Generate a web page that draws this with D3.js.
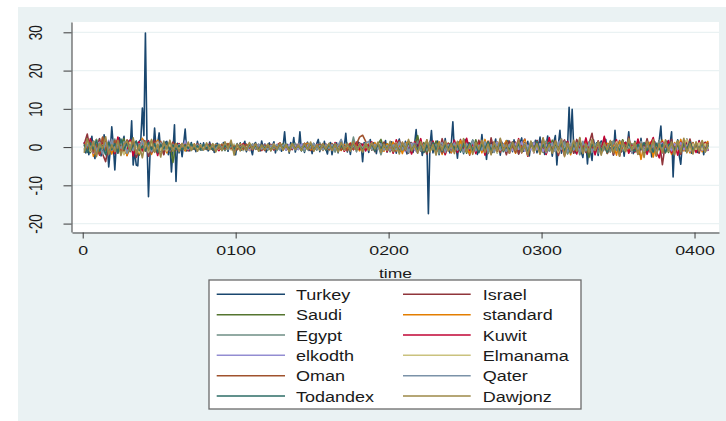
<!DOCTYPE html>
<html>
<head>
<meta charset="utf-8">
<script src="https://cdn.jsdelivr.net/npm/d3@7"></script>
<style>
  body { margin: 0; background: #fff; }
  svg { display: block; font-family: "Liberation Sans", Arial, sans-serif; }
</style>
</head>
<body>
<div id="chart"></div>
<script>
// series names, legend order (row by row, two columns)
var seriesNames = ["Turkey", "Israel", "Saudi", "standard", "Egypt", "Kuwit",
                   "elkodth", "Elmanama", "Oman", "Qater", "Todandex", "Dawjonz"];
var seriesColors = ["#1a476f", "#90353b", "#55752f", "#e37e00", "#6e8e84", "#c10534",
                    "#938dd2", "#cac27e", "#a0522d", "#7b92a8", "#2d6d66", "#9c8847"];

var yTicks = [-20, -10, 0, 10, 20, 30];
var xTicks = [0, 100, 200, 300, 400];
var xTickLabels = ["0", "0100", "0200", "0300", "0400"];

// Turkey, every period 1..409
var turkey = [
  1.2, -1.5, 2.5, -2.0, 0.8, 2.8, -1.2, -3.0, 1.5, -0.5, 2.2, -2.3, -1.0, 3.2, 0.3, 1.0, -5.2, -1.0, 5.3, 0.5,
  -6.0, 1.0, -1.5, 2.4, -0.8, 1.2, 2.8, -1.5, 0.6, 1.6, -0.5, 6.9, -4.7, -1.0, -4.7, -4.9, 1.5, 2.0, 10.2, 3.0,
  29.8, 2.0, -13.0, -2.0, 1.0, -1.0, 5.0, -0.5, 1.0, 3.7, -1.0, 0.8, -1.8, 1.2, 1.5, -2.0, 1.0, -6.5, -1.0, 5.8,
  -9.0, 1.0, -1.5, 0.5, -2.5, 1.0, 4.7, -1.0, 0.5, -1.0, 1.2, -0.6, 0.8, -1.2, 1.5, -0.4, 0.9, -0.8, 1.1, -0.3,
  0.6, -1.0, 1.3, -0.5, 0.4, -1.4, 0.7, 1.0, -0.6, 0.3, -0.9, 1.2, -0.2, 0.8, -1.1, 0.5, 1.4, -0.7, 0.2, -2.0,
  0.9, -0.4, 1.1, -0.8, 0.6, 1.5, -1.2, 0.3, 0.9, -0.6, -2.0, 0.7, 1.2, -0.5, 0.4, -1.0, 1.6, -0.3, 0.8, -1.3,
  0.5, 1.1, -0.9, 0.3, 1.4, -1.5, 0.6, -0.4, 1.0, -1.1, 0.2, 4.0, -0.8, 0.7, -1.6, 1.2, -0.2, 2.5, -1.3, 0.4,
  -0.6, 4.0, -1.0, 0.8, -1.4, 0.5, 1.3, -0.9, 0.2, -1.7, 1.0, -0.3, 0.9, 2.0, -1.2, 0.4, -0.8, 1.5, -0.5, -1.8,
  0.7, 1.2, -2.0, 0.3, -0.7, 1.1, -1.5, 0.6, 1.8, -0.4, 0.2, 3.6, -1.3, 0.5, -1.9, 1.0, -0.6, 0.8, -1.2, 1.4,
  -0.3, 0.9, -3.8, 1.2, -0.5, 0.6, -1.4, 2.0, -0.8, 1.1, 0.4, -1.7, 0.9, -0.2, 1.3, -1.0, 0.5, 1.7, -1.3, 0.3,
  -0.9, 1.4, -0.4, 0.8, -1.6, 1.0, 2.1, -1.1, 0.3, -0.7, 1.5, -1.8, 0.6, 1.2, -0.5, -1.4, 0.9, 4.6, -1.0, 0.4,
  1.3, -2.2, 0.5, -0.9, 1.8, -17.4, 0.2, 4.3, -1.5, 0.8, -0.6, 1.6, -2.0, 0.4, 1.1, -1.2, 2.2, -0.8, 0.6, -1.5,
  1.0, 6.6, -1.2, 0.5, -2.9, 1.4, -0.5, 0.9, -1.7, 2.0, -0.4, 1.1, -1.3, 0.6, 1.8, -0.9, 0.3, -1.9, 1.2, -0.6,
  3.3, -0.8, 0.7, -3.2, 1.1, -0.5, 1.6, -1.4, 0.4, 2.1, -1.0, 0.8, -2.1, 1.3, -0.3, 0.9, -1.6, 1.7, -0.7, 0.5,
  -1.2, 1.9, -0.4, 0.8, -1.8, 1.2, 2.4, -1.1, 0.3, -0.9, 1.5, -2.3, 0.7, 1.0, -0.6, 1.8, -1.5, 0.4, 2.6, -0.8,
  1.2, -1.9, 0.6, 2.9, -1.0, 0.5, -2.4, 1.3, 3.0, -4.7, 0.8, 4.4, -1.6, 0.9, -2.0, 1.4, 0.3, 10.4, 1.0, 9.9,
  0.0, -1.5, 1.8, -0.7, 2.2, -1.3, -2.7, 0.8, 1.5, -4.4, 0.6, -1.2, -3.5, 1.9, -0.5, 1.1, -2.2, 0.7, 1.6, -1.0,
  0.4, 2.0, -1.6, 0.9, -0.6, 1.4, -2.1, 4.4, -0.9, 0.5, 1.7, -1.3, 0.8, -2.4, 1.2, 0.3, 4.0, -1.1, 0.6, -1.7,
  1.5, -0.4, 0.9, -1.9, 2.3, -0.8, 0.5, -1.4, 1.8, -0.6, 1.1, -2.6, 0.7, 1.4, -1.2, 0.4, 2.0, 5.5, -1.5, 0.8,
  -1.1, 1.6, -0.5, 0.9, 4.0, -7.8, 1.0, -0.8, 1.9, -2.2, -4.5, 0.6, 1.3, -1.0, 2.1, -0.7, 0.5, -1.6, 1.2, -0.3,
  0.9, -1.4, 1.7, -0.6, 0.4, -2.0, 1.1, -0.5, 0.8
];

// the other series, read every second period (1, 3, 5, ... 409)
var israel = [
  0.8, 3.4, -1.2, 1.5, -0.6, 2.1, -1.8, -3.8, 0.9, 1.7, -1.4, 2.3, -0.5, 1.2, -2.2, 0.6, 1.9, -2.7, -1.0, 2.0,
  1.4, -2.4, 0.5, 1.8, -1.6, 0.7, -2.0, 1.1, -0.8, 1.3, -0.4, 0.9, -0.7, 0.5, -1.0, 0.6, -0.3, 0.8, -0.6, 0.4,
  -0.5, 0.7, -0.3, 0.6, -0.9, 0.4, 0.8, -0.6, 0.3, -0.7, 0.5, -0.2, 0.9, -0.8, 0.4, -0.5, 0.6, -0.3, 0.7, -0.9,
  0.3, -0.6, 0.8, -0.4, 0.5, -0.8, 0.6, 0.2, -0.7, 0.9, -0.5, 0.4, -0.3, 0.7, -0.9, 0.5, -0.2, 0.6, -0.6, 0.8,
  -0.4, 0.9, -0.7, 0.3, 0.6, -1.0, 0.5, -0.3, 0.8, -0.6, 1.1, -0.8, 0.4, -0.5, 0.9, -1.2, 0.7, -0.4, 1.3, -0.9,
  1.0, -1.4, 0.6, 1.7, -0.9, 0.5, -1.6, 1.2, -0.7, 2.0, -1.1, 0.4, -1.8, 1.5, -0.3, 0.9, -1.3, 2.2, -0.8, 0.6,
  -1.5, 1.1, -0.6, 2.0, -1.2, 0.7, -2.1, 1.4, -0.4, 1.8, -1.0, 0.5, -1.7, 2.4, -0.9, 1.2, -1.4, 0.8, -2.0, 1.6,
  -0.7, 1.3, -1.8, 0.6, 2.1, -1.1, 0.9, -1.5, 1.7, -0.5, 2.3, -1.9, 0.8, -1.0, 1.4, -2.2, 0.6, 1.9, -1.3, 0.7,
  -1.6, 2.0, -0.8, 1.2, -1.4, 0.9, 3.6, -1.7, 0.5, -1.1, 2.4, -0.6, 1.5, -2.0, 0.8, -1.3, 1.8, -0.9, 2.6, -1.5,
  0.7, -1.8, 1.4, -0.6, 2.2, -1.2, 0.9, -2.3, 1.6, -4.6, 1.1, -0.8, 2.0, -1.5, 0.6, -1.9, 1.3, -0.7, 2.1, -1.1,
  0.8, -1.6, 1.5, -0.9, 1.2
];
var saudi = [
  -0.6, 1.2, -1.5, 0.8, 2.0, -1.0, 0.4, -1.8, 1.3, -0.7, 1.6, -1.2, 0.5, 2.2, -1.9, 0.9, -0.4, 1.4, -2.1, 0.7,
  1.1, -0.8, 1.7, -1.3, 0.6, -0.9, 1.0, -0.5, 1.4, -4.0, 0.8, -0.6, 0.5, -0.9, 0.3, 0.7, -0.4, 0.6, -0.8, 0.2,
  0.5, -0.3, 0.8, -0.6, 0.2, 0.7, -0.9, 0.4, -0.5, 0.6, -0.2, 0.9, -0.7, 0.3, -0.4, 0.8, -0.6, 0.5, -0.3, 0.7,
  -0.8, 0.4, -0.2, 0.6, -0.5, 0.9, -0.4, 0.3, 0.7, -0.6, 0.5, -0.9, 0.2, 0.8, -0.3, 0.4, -0.7, 0.6, -0.5, 0.3,
  0.6, -0.4, 0.9, -0.8, 0.3, -0.6, 1.0, -0.5, 0.7, -0.3, 0.5, -0.9, 1.2, -0.7, 0.4, -0.6, 0.8, 2.0, -0.5, 0.9,
  -1.2, 0.7, -0.5, 1.4, -0.9, 0.3, 1.1, -1.5, 0.6, 3.0, -0.8, 1.2, -1.3, 0.5, -0.7, 1.6, -1.0, 0.4, -1.8, 1.0,
  0.6, -1.1, 1.3, -0.4, 0.8, -1.6, 1.0, -0.7, 1.9, -1.2, 0.5, -0.9, 1.4, -0.3, 0.7, -1.5, 1.1, -0.6, 1.7, -1.0,
  0.4, -1.3, 0.9, -0.5, 1.5, -1.8, 0.6, 1.2, -0.8, 0.3, -1.4, 1.0, -0.6, 1.8, -1.1, 0.7, -0.4, 1.3, -1.7, 0.5,
  1.0, -0.7, 1.4, -1.2, 0.6, -2.7, 0.8, -0.5, 1.6, -1.0, 0.4, -1.5, 1.2, -0.8, 0.7, -1.3, 1.9, -0.6, 0.9, -1.1,
  1.3, -0.9, 0.5, -1.6, 1.1, -0.4, 0.8, -1.2, 1.5, -0.7, 0.6, -1.4, 1.0, -0.5, 1.7, -1.1, 0.4, -0.8, 1.2, -0.6,
  -1.0, 0.9, -0.5, 1.3, -0.7
];
var standard = [
  0.5, -1.1, 1.6, -2.4, 0.9, -1.6, 2.5, -0.7, 1.3, -1.8, 0.4, 2.0, -1.3, 0.8, -2.2, 1.5, -0.6, 1.1, -1.7, 2.3,
  -0.9, 1.4, -1.9, 0.6, 1.8, -1.2, 0.7, -1.5, 1.2, -0.6, 0.9, -0.4, 0.7, -1.0, 0.5, -0.3, 0.8, -0.7, 0.4, -0.5,
  0.7, -0.4, 0.5, -0.8, 0.3, 0.6, -0.5, 0.9, -0.7, 0.2, -0.6, 0.8, -0.3, 0.5, -0.9, 0.4, 0.7, -0.5, 0.3, -0.6,
  0.4, -0.7, 0.6, -0.3, 0.9, -0.5, 0.2, -0.8, 0.6, -0.4, 0.7, -0.6, 0.5, 1.0, -0.7, 0.3, -0.5, 0.8, -0.9, 0.4,
  -0.6, 0.8, -0.3, 0.5, -0.9, 0.7, -0.4, 1.1, -0.6, 0.3, -1.0, 0.6, -0.5, 0.9, -0.7, 1.2, -0.4, 0.6, -1.1, 0.8,
  -0.5, 1.3, -1.0, 0.6, -1.7, 0.9, 1.5, -0.8, 0.4, -1.3, 1.1, -0.6, 1.8, -1.2, 0.7, -0.4, 1.4, -1.9, 0.5, 1.0,
  -1.4, 0.8, -0.6, 1.7, -1.1, 0.5, -1.8, 1.2, -0.3, 0.9, -1.5, 2.0, -0.7, 0.6, -1.2, 1.4, -0.9, 0.4, 1.6, -1.0,
  0.7, -1.6, 1.1, -0.5, 1.9, -1.3, 0.6, -0.9, 1.5, -1.8, 0.8, -0.4, 2.1, -1.0, 0.5, -1.4, 1.2, -0.7, 0.9, -2.0,
  1.3, -0.6, 0.8, -1.5, 1.8, -1.1, 0.4, -0.8, 1.4, -1.7, 0.6, 1.0, -1.2, 0.5, -2.1, 1.6, -0.7, 1.1, -1.3, 0.9,
  -0.8, 1.5, -3.2, 0.7, -1.1, 1.3, -2.6, 0.9, -0.5, 1.8, -1.4, 0.6, -1.9, 1.2, -0.7, 2.0, -1.0, 0.5, -1.5, 1.1,
  -0.6, 1.4, -1.2, 0.8, 1.6
];
var egypt = [
  -0.9, 1.7, -0.4, 1.1, -2.0, 0.6, 1.4, -1.3, 0.8, -0.5, 2.1, -1.6, 0.3, -1.1, 1.5, -0.7, 0.9, -1.9, 1.2, -0.3,
  0.8, -1.5, 1.3, -0.6, 0.4, -1.2, 1.6, -0.8, 0.5, -0.9, 0.6, -0.4, 0.8, -0.5, 0.3, -0.7, 0.5, -0.2, 0.6, -0.4,
  -0.6, 0.5, -0.3, 0.8, -0.5, 0.4, -0.8, 0.6, -0.2, 0.7, -0.4, 0.5, -0.9, 0.3, 0.6, -0.5, 0.8, -0.6, 0.4, -0.3,
  0.7, -0.5, 0.3, -0.9, 0.6, -0.2, 0.8, -0.7, 0.4, 1.0, -0.6, 0.5, -1.1, 0.7, -0.4, 0.9, -0.8, 1.2, -0.5, 0.6,
  -0.9, 0.7, -1.3, 0.4, 1.0, -0.6, 0.8, -1.0, 2.6, -0.7, 0.5, -1.4, 0.9, -0.5, 1.1, -0.8, 0.6, -2.0, 0.7, -0.4,
  0.9, -1.2, 0.5, 1.3, -0.8, 0.6, -1.5, 1.0, -0.4, 1.6, -1.1, 0.7, -0.9, 1.4, -0.6, 0.8, -1.7, 1.1, -0.5, 0.9,
  -1.0, 1.5, -0.7, 0.4, -1.4, 1.2, -0.5, 1.8, -1.2, 0.6, -0.8, 1.3, -1.6, 0.5, 0.9, -1.1, 1.6, -0.6, 0.8, -1.3,
  1.1, -0.4, 1.4, -1.0, 0.6, -1.7, 0.9, -0.5, 1.2, -1.4, 0.7, 1.6, -0.9, 0.4, -1.2, 1.0, -0.6, 1.5, -1.8, 0.8,
  -0.6, 1.2, -2.0, 0.8, -1.0, 1.4, -0.5, 0.9, -1.6, 1.1, -0.7, 0.5, -1.3, 1.7, -0.8, 0.6, -1.1, 1.3, -0.4, 0.9,
  -1.2, 0.7, 1.5, -0.9, 0.4, -1.4, 1.0, -0.6, 1.8, -1.1, 0.5, -0.8, 1.3, -1.6, 0.9, -0.4, 1.2, -1.0, 0.6, -1.5,
  0.8, -0.7, 1.1, -1.3, 0.5
];
var kuwit = [
  1.3, -0.8, 2.2, -1.5, 0.6, -2.1, 1.0, 1.8, -1.2, 0.4, -1.7, 2.6, -0.9, 1.1, -0.5, 1.9, -2.3, 0.7, 1.4, -1.0,
  0.5, 1.7, -1.4, 0.9, -2.2, 1.2, -0.6, 0.8, -1.1, 0.4, -0.7, 0.9, -0.3, 0.6, -0.8, 0.4, -0.5, 0.7, -0.2, 0.5,
  -0.4, 0.8, -0.6, 0.3, -0.9, 0.5, 0.7, -0.3, 0.6, -0.8, 0.4, -0.5, 0.9, -0.2, 0.3, -0.7, 0.6, 0.4, -0.9, 0.5,
  -0.3, 0.7, -0.8, 0.5, 1.1, -0.4, 0.6, -0.9, 0.3, -0.5, 0.8, -0.6, 1.0, -0.3, 0.5, -1.0, 0.7, -0.4, 0.9, -0.7,
  0.5, -0.8, 1.2, -0.5, 0.7, -1.1, 0.4, 0.9, -0.7, 1.3, -0.6, 0.8, -1.0, 0.5, 1.4, -0.8, 0.6, -0.4, 1.0, -1.2,
  0.8, -1.6, 1.9, -0.7, 1.2, -1.0, 0.5, -1.8, 1.4, -0.6, 2.2, -1.3, 0.7, -0.9, 1.6, -1.5, 0.6, 1.1, -2.0, 0.9,
  -0.6, 1.8, -1.4, 0.5, -1.0, 2.3, -0.8, 1.1, -1.7, 0.7, 1.5, -2.1, 0.9, -0.5, 1.3, -1.2, 2.0, -0.7, 0.6, -1.6,
  1.4, -0.9, 2.2, -1.5, 0.8, -2.4, 1.1, -0.6, 1.7, -1.0, 0.5, -1.9, 2.5, -0.8, 1.2, -1.4, 0.6, -2.2, 1.5, -0.7,
  0.9, -1.8, 1.3, -0.5, 2.4, -1.1, 0.7, -2.0, 1.6, -0.8, 2.8, -1.4, 0.6, -1.0, 1.9, -2.3, 0.8, 1.2, -1.6, 0.5,
  -1.3, 2.1, -0.7, 1.0, -1.9, 0.6, 2.5, -1.2, -2.8, 1.4, -0.9, 1.7, -1.5, 0.8, -2.1, 1.3, -0.6, 1.9, -1.1, 0.7,
  -1.4, 1.6, -0.8, 1.2, -1.0
];
var elkodth = [
  0.4, -1.0, 0.9, -1.6, 0.7, 1.3, -0.5, -1.2, 1.8, -0.8, 0.5, -1.4, 1.1, -0.3, 1.6, -0.9, 0.6, -1.3, 0.8, 1.2,
  -0.7, 0.9, -1.1, 0.5, 1.4, -0.8, 0.6, -1.0, 0.3, 0.8, -0.5, 0.6, -0.4, 1.6, -0.6, 0.3, -0.5, 0.7, -0.4, 0.5,
  0.6, -0.4, 0.7, -0.6, 0.3, -0.5, 0.8, -0.3, 0.5, -0.7, 0.4, 0.6, -0.5, 0.3, -0.8, 0.7, -0.4, 0.5, -0.6, 0.8,
  -0.5, 0.3, -0.7, 0.6, -0.4, 0.5, -0.8, 0.7, -0.3, 0.4, -0.6, 0.8, -0.5, 0.3, 0.7, -0.4, 0.6, -0.7, 0.4, -0.5,
  0.8, -0.6, 0.4, -0.9, 0.7, -0.5, 0.6, -0.3, 0.9, -0.7, 0.4, -0.6, 1.0, -0.5, 0.7, -0.8, 0.5, -0.4, 0.8, -0.6,
  0.5, -0.9, 1.1, -0.6, 0.8, -1.2, 0.4, 0.9, -0.7, -1.5, 0.6, -0.8, 1.3, -0.5, 0.9, -1.1, 0.7, -0.4, 1.0, -0.8,
  0.6, -1.0, 0.8, -0.5, 1.2, -0.9, 0.4, -0.7, 1.1, -1.3, 0.7, -0.6, 0.9, -1.0, 0.5, 1.3, -0.8, 0.6, -1.1, 0.7,
  -0.9, 1.0, -0.6, 1.4, -1.1, 0.5, -0.8, 1.2, -0.7, 0.9, -1.2, 0.6, -0.5, 1.1, -0.9, 0.7, 2.2, -1.0, 0.6, -0.8,
  1.2, -0.7, 0.9, -1.3, 0.5, -0.9, 1.1, -0.6, 0.8, -1.4, 0.7, -0.5, 1.3, -0.8, 0.6, -1.1, 0.9, -0.7, 1.4, -0.9,
  0.6, -1.2, 0.8, -0.5, 1.0, -0.9, 0.7, -1.3, 0.5, 1.1, -0.8, 0.6, -1.0, 0.9, -0.6, 1.2, -0.7, 0.5, -1.1, 0.8,
  -0.6, 1.0, -0.8, 0.5, -0.9
];
var elmanama = [
  -0.7, 1.4, -1.1, 0.6, 1.9, -0.9, 0.5, -1.7, 1.0, -0.4, 1.5, -1.2, 0.8, -2.0, 0.6, 1.3, -0.8, 0.4, -1.4, 1.1,
  0.7, -1.3, 0.9, -0.5, 1.2, -0.8, 0.4, -1.0, 0.6, -0.7, 0.5, -0.3, 0.8, -0.6, 0.4, -0.5, 0.3, -0.7, 0.6, -0.4,
  0.5, -0.7, 0.3, 0.6, -0.5, 0.8, -0.4, 0.2, -0.6, 0.7, -0.3, 0.5, -0.8, 0.4, 0.6, -0.5, 0.3, -0.7, 0.5, -0.4,
  0.6, -0.3, 0.8, -0.6, 0.4, -0.7, 0.5, -0.4, 0.9, -0.5, 0.3, -0.8, 0.6, -0.4, 0.7, -0.6, 0.5, -0.3, 0.8, -0.7,
  0.4, -0.6, 0.9, -0.5, 0.7, -0.8, 0.5, -0.4, 0.6, -1.0, 0.8, -0.5, 0.4, -0.7, 1.1, -0.6, 0.5, -0.9, 0.7, -0.4,
  0.9, -0.7, 1.2, -1.0, 0.5, -0.8, 1.4, -0.6, 0.7, -1.1, 0.9, -0.5, 1.3, -0.9, 0.6, -1.2, 0.8, -0.4, 1.0, -0.7,
  0.5, -1.0, 0.8, -0.6, 1.3, -0.9, 0.6, -1.2, 0.7, -0.5, 1.1, -0.8, 0.4, -1.0, 0.9, -1.5, 0.6, -0.7, 1.2, -0.5,
  0.8, -1.1, 0.6, -0.9, 1.4, -0.7, 0.5, -1.3, 1.0, -0.6, 0.8, -1.0, 1.2, -0.5, 0.7, -1.4, 0.9, -0.6, 1.1, -0.8,
  0.6, -0.9, 1.3, -0.7, 0.5, -1.2, 0.9, -0.6, 1.0, -0.8, 0.7, -1.1, 0.5, -0.7, 1.4, -0.9, 0.6, -1.3, 0.8, -0.5,
  1.0, -0.8, 0.6, -1.1, 0.9, -0.5, 1.2, -0.9, 0.7, -0.6, 1.1, -1.0, 0.5, -0.8, 1.3, -0.7, 0.6, 2.0, -0.9, 0.8,
  -0.6, 1.1, -0.7, 0.9, -0.5
];
var oman = [
  1.0, -0.6, 1.5, -1.3, 0.7, -1.9, 2.6, -0.8, 1.2, -0.4, 1.7, -1.5, 0.5, -1.0, 1.9, -0.7, 0.9, -1.6, 0.6, 1.3,
  -1.1, 0.8, -1.4, 1.0, -0.6, 1.5, -0.9, 0.5, -0.7, 0.9, -0.4, 0.6, -0.3, 0.7, -0.5, 0.4, -0.6, 0.8, -0.3, 0.5,
  -0.6, 0.4, -0.8, 0.6, -0.3, 0.7, -0.5, 0.9, -0.4, 0.3, -0.7, 0.5, -0.6, 0.8, -0.3, 0.4, -0.5, 0.7, -0.8, 0.6,
  -0.4, 0.6, -0.7, 0.3, 0.8, -0.5, 0.4, -0.9, 0.7, -0.3, 0.5, -0.6, 0.9, -0.4, 0.6, -0.8, 0.3, 0.7, -0.5, 0.4,
  -0.7, 0.9, -0.5, 0.6, -0.8, 0.4, -1.0, 0.7, -0.6, 0.8, 2.6, 3.1, 1.5, -0.7, 0.5, -0.9, 0.6, -0.5, 1.1, -0.8,
  1.2, -0.8, 1.0, -1.3, 0.6, -0.9, 1.5, -0.7, 0.5, -1.1, 0.8, -1.4, 1.1, -0.6, 0.9, -1.0, 0.4, -1.6, 1.2, -0.5,
  0.9, -1.2, 0.6, -0.8, 1.4, -1.0, 0.5, -1.5, 1.1, -0.7, 0.8, -1.3, 1.6, -0.5, 0.7, -1.1, 0.9, -0.6, 1.3, -0.9,
  0.5, -1.4, 1.0, -0.7, 1.2, -1.6, 0.8, -0.5, 1.5, -1.0, 0.6, -1.2, 0.9, -0.8, 1.7, -0.6, 0.5, -1.3, 1.1, -0.9,
  0.7, -1.1, 1.4, -0.6, 0.9, -1.5, 0.6, -0.8, 1.2, -1.0, 0.5, -1.7, 1.3, -0.7, 0.8, -1.2, 1.0, -0.5, 1.6, -0.9,
  0.6, -1.3, 1.1, -0.8, 0.5, -1.0, 1.5, -0.6, 0.9, -1.4, 0.7, -0.9, 1.2, -0.5, 0.8, -1.6, 1.0, -0.7, 1.3, -0.8,
  0.6, -1.1, 0.9, -0.7, 1.2
];
var qater = [
  -1.2, 0.7, -0.4, 1.6, -0.9, 0.5, -1.8, 1.2, -0.6, 2.0, -1.1, 0.8, -0.3, 1.4, -1.6, 0.6, -0.8, 1.1, -0.5, 1.7,
  -0.9, 0.6, -1.2, 0.8, -0.5, 1.1, -0.7, 0.4, -1.0, 0.6, -0.4, 0.7, -0.5, 0.3, -0.6, 0.5, -0.3, 0.6, -0.7, 0.4,
  0.3, -0.6, 0.5, -0.4, 0.8, -0.3, 0.6, -0.7, 0.4, -0.5, 0.7, -0.2, 0.5, -0.8, 0.3, 0.6, -0.4, 0.8, -0.5, 0.2,
  -0.6, 0.5, -0.3, 0.7, -0.8, 0.4, 0.6, -0.5, 0.3, -0.7, 0.8, -0.4, 0.5, -0.6, 0.3, 0.9, -0.5, 0.4, -0.8, 0.6,
  -0.3, 0.7, -0.6, 0.5, 2.0, -0.4, 0.8, -0.7, 0.5, -0.9, 0.6, -0.4, 1.0, 1.5, -0.6, 0.7, -0.5, 0.9, -0.8, 0.4,
  -1.0, 0.6, -0.7, 1.2, -0.5, 0.9, -1.3, 0.4, 1.0, -0.8, 0.6, -1.1, 1.4, -0.6, 0.8, -0.9, 0.5, 1.2, -1.4, 0.7,
  -0.5, 1.1, -0.8, 0.6, -1.2, 0.9, -0.4, 1.5, -1.0, 0.5, -0.7, 1.3, -0.9, 0.6, -1.4, 1.0, -0.5, 0.8, -1.1, 0.6,
  1.2, -0.7, 0.5, -1.3, 0.9, -0.6, 1.4, -1.0, 0.7, -0.5, 1.1, -1.5, 0.6, 0.9, -0.8, 1.3, -0.6, 0.5, -1.2, 1.0,
  -0.8, 0.6, -1.1, 1.5, -0.7, 0.9, -1.3, 0.5, 1.2, -0.9, 0.6, -1.0, 1.4, -0.5, 0.8, -1.2, 0.7, -0.6, 1.1, -1.4,
  0.9, -0.6, 1.3, -1.1, 0.5, -0.8, 1.0, -1.4, 0.7, -0.5, 1.2, -0.9, 0.6, -1.1, 0.8, -0.5, 1.4, -1.0, 0.6, -0.7,
  1.0, -0.8, 0.5, -1.2, 0.7
];
var todandex = [
  0.6, -1.4, 1.1, -0.5, 1.8, -1.0, 0.4, -2.0, 1.3, -0.7, 0.9, -1.5, 2.1, -0.6, 1.0, -1.2, 0.5, 1.6, -0.9, 0.3,
  -1.0, 1.3, -0.6, 0.9, -1.5, 0.7, -0.4, 1.2, -0.8, 0.5, -0.6, 0.4, -0.7, 0.5, -0.3, 0.8, -0.5, 0.3, -0.6, 0.7,
  -0.4, 0.6, -0.7, 0.3, 0.5, -0.8, 0.4, -0.3, 0.7, -0.5, 0.6, -0.4, 0.3, -0.6, 0.8, -0.5, 0.4, -0.7, 0.6, -0.3,
  0.5, -0.8, 0.4, -0.5, 0.7, -0.3, 0.6, -0.6, 0.8, -0.4, 0.3, -0.7, 0.5, -0.5, 0.9, -0.6, 0.4, -0.3, 0.7, -0.8,
  0.6, -0.5, 0.8, -0.9, 0.4, -0.6, 0.7, -0.4, 1.0, -0.7, 0.5, -0.8, 0.6, -0.5, 0.9, -1.1, 0.7, -0.4, 0.8, -0.6,
  1.1, -0.9, 0.6, -1.2, 0.8, -0.5, 1.3, -1.0, 0.7, -0.6, 1.0, -1.4, 0.5, -0.8, 1.2, -0.7, 0.9, -1.1, 0.6, -0.4,
  1.2, -0.8, 0.5, -1.3, 0.9, -0.6, 1.1, -1.0, 0.7, -1.5, 0.8, -0.5, 1.4, -0.9, 0.6, -0.7, 1.0, -1.2, 0.5, -0.8,
  1.3, -0.6, 0.9, -1.1, 0.5, -1.4, 1.0, -0.7, 1.6, -0.9, 0.6, -0.5, 1.2, -1.3, 0.8, -0.6, 1.1, -0.9, 0.5, -1.5,
  0.9, -0.7, 1.5, -1.0, 0.6, -1.2, 0.8, -0.5, 1.3, -0.9, 0.7, -1.4, 1.1, -0.6, 0.5, -1.0, 1.6, -0.8, 0.9, -0.5,
  -1.1, 0.7, -0.6, 1.2, -0.9, 0.5, -1.3, 1.0, -0.7, 0.8, -1.5, 0.6, 1.1, -0.8, 0.5, -1.2, 0.9, -0.6, 1.4, -1.0,
  0.7, -0.5, 1.0, -0.9, 0.6
];
var dawjonz = [
  -1.5, 2.2, -0.8, 1.4, -2.5, 1.0, -0.4, 2.7, -1.9, 0.6, -1.2, 1.8, -2.2, 0.9, 1.5, -1.0, 2.4, -1.7, 0.5, -2.8,
  1.6, -0.9, 2.0, -1.4, 0.7, -2.6, 1.3, -0.5, 1.8, -1.1, 0.8, -1.2, 1.0, -0.6, 1.3, -0.9, 0.7, -1.1, 0.5, -0.8,
  1.1, -0.7, 0.9, -1.3, 0.6, -0.9, 1.4, -0.5, 1.8, -2.1, 0.8, -1.0, 0.6, -0.8, 1.2, -0.6, 0.9, -1.1, 0.5, -0.7,
  0.8, -1.0, 0.6, -0.5, 1.1, -0.8, 0.7, -1.2, 0.9, -0.6, 0.5, -0.9, 1.0, -0.7, 1.3, -1.1, 0.6, -0.8, 0.9, -0.5,
  1.0, -0.9, 0.7, -1.3, 1.2, -0.6, 0.8, -1.0, 1.4, -0.7, 0.5, -1.2, 0.9, -0.8, 1.1, -0.5, 1.3, -1.4, 0.7, -0.9,
  1.5, -1.2, 0.8, -1.8, 1.3, -0.7, 2.0, -1.0, 0.6, -1.6, 1.4, -0.9, 1.9, -1.3, 0.7, -2.1, 1.2, -0.8, 1.6, -1.1,
  0.9, -1.7, 1.5, -0.8, 2.2, -1.3, 0.6, -1.9, 1.2, -0.7, 1.8, -1.4, 0.8, -2.0, 1.4, -1.0, 2.3, -0.9, 0.7, -1.6,
  1.3, -0.8, 1.9, -1.5, 0.6, -2.2, 1.6, -1.0, 0.9, -1.8, 2.4, -1.1, 0.7, -1.6, 1.5, -0.9, 2.1, -2.5, 1.0, -1.2,
  1.8, -1.0, 2.5, -1.7, 0.8, -1.3, 2.0, -0.9, 1.4, -2.1, 1.1, -0.7, 1.7, -1.5, 0.9, -2.4, 1.6, -1.1, 2.2, -0.8,
  1.2, -1.9, 0.9, -2.7, 1.5, -1.0, 2.0, -2.3, 0.8, -1.4, 1.9, -0.9, 1.3, -2.0, 1.6, -1.2, 2.3, -1.5, 0.9, -1.8,
  1.4, -1.0, 1.7, -1.3, 0.9
];

// period index for each series
var periodsAll = d3.range(1, 410);
var periodsOdd = d3.range(1, 410, 2);

var seriesValues = [turkey, israel, saudi, standard, egypt, kuwit,
                    elkodth, elmanama, oman, qater, todandex, dawjonz];

var W = 726, H = 421;
var plot = { left: 72, right: 719, top: 22, bottom: 232 };
var fontFamily = '"Liberation Sans", Arial, sans-serif';

var svg = d3.select('#chart').append('svg')
    .attr('width', W)
    .attr('height', H);

// white outer, bluish graph region, white plot region
svg.append('rect').attr('width', W).attr('height', H).attr('fill', '#ffffff');
svg.append('rect')
    .attr('x', 18).attr('y', 7)
    .attr('width', W - 18).attr('height', H - 7)
    .attr('fill', '#eaf2f3');
svg.append('rect')
    .attr('x', plot.left).attr('y', plot.top)
    .attr('width', plot.right - plot.left).attr('height', plot.bottom - plot.top)
    .attr('fill', '#ffffff');

var x = d3.scaleLinear().domain([-7, 416]).range([plot.left, plot.right]);
var y = d3.scaleLinear().domain([-22.2, 32.7]).range([plot.bottom, plot.top]);

// grid lines
svg.append('g').selectAll('line')
    .data(yTicks)
  .enter().append('line')
    .attr('x1', plot.left).attr('x2', plot.right)
    .attr('y1', d => y(d)).attr('y2', d => y(d))
    .attr('stroke', '#eaf2f3')
    .attr('stroke-width', 1.4);

// the series, Turkey first so the others sit over it
var line = d3.line()
    .x(d => x(d[0]))
    .y(d => y(d[1]));

seriesValues.forEach(function(vals, i) {
  var periods = i === 0 ? periodsAll : periodsOdd;
  var pts = vals.map((v, j) => [periods[j], v]).filter(p => p[0] !== undefined);
  svg.append('path')
      .datum(pts)
      .attr('fill', 'none')
      .attr('stroke', seriesColors[i])
      .attr('stroke-width', 1.6)
      .attr('stroke-linejoin', 'round')
      .attr('d', line);
});

// y axis
var yAxis = svg.append('g')
    .attr('transform', 'translate(' + (plot.left - 0.5) + ',0)')
    .call(d3.axisLeft(y).tickValues(yTicks).tickSize(8).tickSizeOuter(0)
      .tickFormat(d => String(d)));
yAxis.select('.domain').attr('stroke', '#3a3a3a');
yAxis.selectAll('.tick line').attr('stroke', '#3a3a3a');
yAxis.selectAll('.tick text')
    .attr('x', null).attr('dy', null)
    .attr('transform', 'translate(-29.5,0) scale(1.35,1) rotate(-90)')
    .attr('text-anchor', 'middle')
    .attr('fill', '#1a1a1a')
    .style('font-family', fontFamily)
    .style('font-size', '13.5px');

// x axis
var xAxis = svg.append('g')
    .attr('transform', 'translate(0,' + (plot.bottom + 0.5) + ')')
    .call(d3.axisBottom(x).tickValues(xTicks).tickSize(6).tickSizeOuter(0)
      .tickFormat((d, i) => xTickLabels[i]));
xAxis.select('.domain').attr('stroke', '#3a3a3a');
xAxis.selectAll('.tick line').attr('stroke', '#3a3a3a');
xAxis.selectAll('.tick text')
    .attr('y', null).attr('dy', null)
    .attr('transform', 'translate(0,22.5) scale(1.32,1)')
    .attr('text-anchor', 'middle')
    .attr('fill', '#1a1a1a')
    .style('font-family', fontFamily)
    .style('font-size', '13.5px');

svg.append('text')
    .attr('transform', 'translate(' + ((plot.left + plot.right) / 2) + ',277.5) scale(1.3,1)')
    .attr('text-anchor', 'middle')
    .attr('fill', '#1a1a1a')
    .style('font-family', fontFamily)
    .style('font-size', '13.5px')
    .text('time');

// legend, two columns filled row by row
var legend = { x: 209, y: 280, width: 372, height: 129, rowGap: 20.35, firstRow: 294.3 };
var lg = svg.append('g');
lg.append('rect')
    .attr('x', legend.x).attr('y', legend.y)
    .attr('width', legend.width).attr('height', legend.height)
    .attr('fill', '#ffffff')
    .attr('stroke', '#6a6a6a')
    .attr('stroke-width', 1.3);

var colX = [ { x1: 216.7, x2: 285, tx: 296 }, { x1: 403, x2: 470.7, tx: 482.7 } ];
var entry = lg.selectAll('.entry')
    .data(seriesNames)
  .enter().append('g')
    .attr('class', 'entry')
    .attr('transform', (d, i) => 'translate(0,' + (legend.firstRow + Math.floor(i / 2) * legend.rowGap) + ')');
entry.append('line')
    .attr('x1', (d, i) => colX[i % 2].x1)
    .attr('x2', (d, i) => colX[i % 2].x2)
    .attr('stroke', (d, i) => seriesColors[i])
    .attr('stroke-width', 1.5);
entry.append('text')
    .attr('transform', (d, i) => 'translate(' + colX[i % 2].tx + ',5.6) scale(1.2,1)')
    .attr('fill', '#1a1a1a')
    .style('font-family', fontFamily)
    .style('font-size', '15px')
    .text(d => d);
</script>
</body>
</html>
